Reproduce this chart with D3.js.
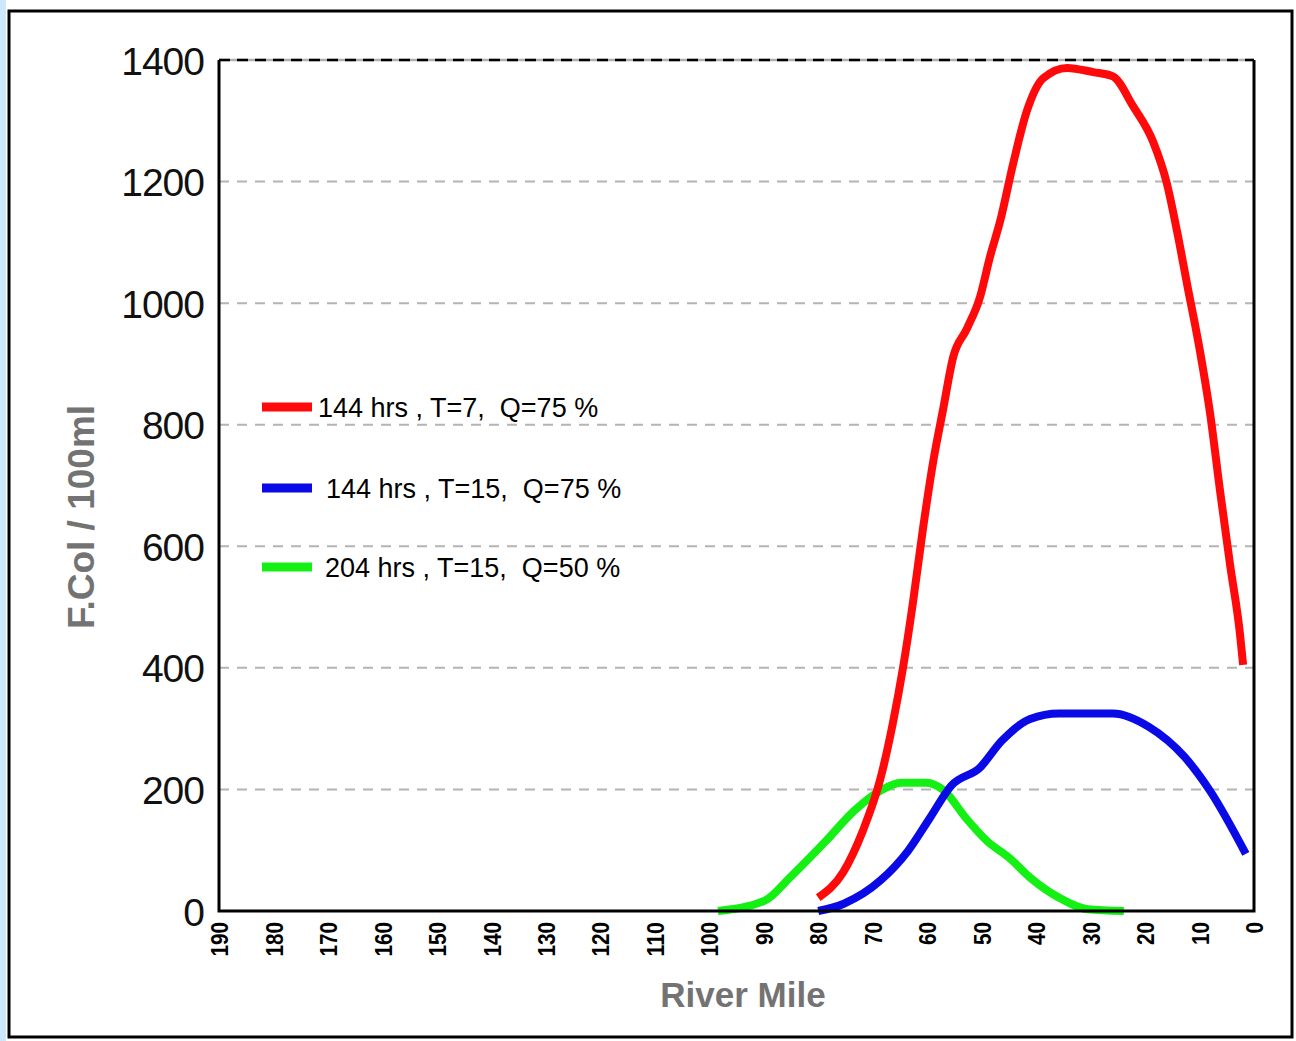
<!DOCTYPE html>
<html>
<head>
<meta charset="utf-8">
<script src="https://cdn.jsdelivr.net/npm/d3@7/dist/d3.min.js"></script>
<style>
  html, body { margin: 0; padding: 0; background: #ffffff; }
  svg { display: block; }
  text { white-space: pre; }
</style>
</head>
<body>
<svg id="chart" width="1296" height="1041"></svg>
<script>
// ---------- data ----------
const xTicks = [190, 180, 170, 160, 150, 140, 130, 120, 110, 100, 90, 80, 70, 60, 50, 40, 30, 20, 10, 0];
const yTicks = [0, 200, 400, 600, 800, 1000, 1200, 1400];

const seriesNames = ["144 hrs , T=7,  Q=75 %", "144 hrs , T=15,  Q=75 %", "204 hrs , T=15,  Q=50 %"];
const seriesColors = ["#ff0a0a", "#0a0ae6", "#14f014"];

// river mile, F.Col/100ml
const redMiles  = [80.0, 75.4, 71.8, 68.6, 66.3, 64.4, 62.6, 60.8, 58.9, 57.1, 55.2, 52.7, 50.3, 48.5, 46.6, 44.2, 41.7, 38.7, 34.3, 29.5, 25.9, 22.2, 18.5, 16.0, 14.1, 12.3, 9.9, 8.1, 6.2, 4.4, 2.6, 2.0];
const redValues = [22, 64, 132, 217, 309, 402, 508, 627, 739, 824, 912, 958, 1010, 1075, 1135, 1230, 1316, 1370, 1387, 1380, 1373, 1324, 1265, 1197, 1117, 1032, 920, 821, 689, 570, 458, 405];

const blueMiles  = [80.0, 75.3, 68.6, 63.5, 59.5, 55.6, 50.3, 46.3, 41.1, 35.8, 25.9, 19.3, 12.7, 8.1, 1.5];
const blueValues = [0, 12, 50, 99, 153, 206, 236, 280, 316, 325, 325, 303, 253, 198, 94];

const greenMiles  = [98.4, 89.8, 85.2, 78.6, 73.4, 68.6, 64.8, 60.2, 56.9, 52.9, 49.0, 45.0, 41.1, 35.8, 30.5, 23.9];
const greenValues = [0, 17, 55, 115, 165, 198, 211, 211, 198, 153, 115, 88, 55, 22, 3, 0];

const xTitle = "River Mile";
const yTitle = "F.Col / 100ml";

// ---------- layout ----------
const svg = d3.select("#chart");
const plotL = 219, plotR = 1254, plotT = 60, plotB = 911;

const x = d3.scaleLinear().domain([190, 0]).range([plotL, plotR]);
const y = d3.scaleLinear().domain([0, 1400]).range([plotB, plotT]);

// light blue strip on the left edge
svg.append("rect").attr("x", 0).attr("y", 0).attr("width", 6).attr("height", 1041).attr("fill", "#cfe7fb");
// outer frame
svg.append("rect").attr("x", 9).attr("y", 11).attr("width", 1283).attr("height", 1026)
  .attr("fill", "#ffffff").attr("stroke", "#000").attr("stroke-width", 3);

// gridlines
svg.append("g").selectAll("line")
  .data(yTicks.filter(d => d > 0 && d < 1400))
  .join("line")
  .attr("x1", plotL).attr("x2", plotR)
  .attr("y1", d => y(d)).attr("y2", d => y(d))
  .attr("stroke", "#b4b4b4").attr("stroke-width", 2)
  .attr("stroke-dasharray", "10,8");

// top border: gray line with black dashes
svg.append("line").attr("x1", plotL).attr("x2", plotR).attr("y1", y(1400)).attr("y2", y(1400))
  .attr("stroke", "#b0b0b0").attr("stroke-width", 2.5);
svg.append("line").attr("x1", plotL).attr("x2", plotR).attr("y1", y(1400)).attr("y2", y(1400))
  .attr("stroke", "#000").attr("stroke-width", 2.5).attr("stroke-dasharray", "11,7");

// series
const series = [
  { miles: greenMiles, values: greenValues, color: seriesColors[2] },
  { miles: blueMiles, values: blueValues, color: seriesColors[1] },
  { miles: redMiles, values: redValues, color: seriesColors[0] }
];
const line = d3.line()
  .x(d => x(d[0])).y(d => y(d[1]))
  .curve(d3.curveMonotoneX);

series.forEach(s => {
  const pts = s.miles.map((m, i) => [m, s.values[i]]);
  svg.append("path")
    .attr("d", line(pts))
    .attr("fill", "none")
    .attr("stroke", s.color)
    .attr("stroke-width", 8)
    .attr("stroke-linejoin", "round")
    .attr("stroke-linecap", "butt");
});

// plot border (left, bottom, right)
svg.append("path")
  .attr("d", `M${plotL},${plotT} V${plotB} H${plotR} V${plotT}`)
  .attr("fill", "none").attr("stroke", "#000").attr("stroke-width", 3);

// y axis labels
const yAxis = d3.axisLeft(y).tickValues(yTicks).tickSize(0).tickPadding(15).tickFormat(d3.format("d"));
const gy = svg.append("g").attr("transform", `translate(${plotL},0)`).call(yAxis);
gy.select(".domain").remove();
gy.selectAll("text")
  .attr("font-family", "'Liberation Sans', Arial, sans-serif")
  .attr("font-size", 39)
  .attr("fill", "#111")
  .attr("letter-spacing", -1)
  .attr("dy", "0.36em");

// x axis labels (rotated)
const xAxis = d3.axisBottom(x).tickValues(xTicks).tickSize(0).tickFormat(d3.format("d"));
const gx = svg.append("g").attr("transform", `translate(0,${plotB})`).call(xAxis);
gx.select(".domain").remove();
gx.selectAll("text")
  .attr("font-family", "'Liberation Sans Narrow', 'Liberation Sans', Arial, sans-serif")
  .attr("font-weight", "bold")
  .attr("font-size", 24)
  .attr("fill", "#000")
  .attr("text-anchor", "end")
  .attr("x", 0).attr("y", 0)
  .attr("dy", "0.36em")
  .attr("textLength", d => String(d).length * 11.5)
  .attr("lengthAdjust", "spacingAndGlyphs")
  .attr("transform", "translate(0,11) rotate(-90)");

// axis titles
svg.append("text")
  .attr("transform", `translate(81,517) rotate(-90)`)
  .attr("text-anchor", "middle").attr("dy", "0.36em")
  .attr("font-family", "'Liberation Sans', Arial, sans-serif")
  .attr("font-weight", "bold").attr("font-size", 37)
  .attr("fill", "#737373")
  .text(yTitle);

svg.append("text")
  .attr("x", 743).attr("y", 994)
  .attr("text-anchor", "middle").attr("dy", "0.36em")
  .attr("font-family", "'Liberation Sans', Arial, sans-serif")
  .attr("font-weight", "bold").attr("font-size", 35)
  .attr("fill", "#737373")
  .text(xTitle);

// legend
const legendY = [407, 488, 567];
const legendTextX = [318, 326, 325];
seriesNames.forEach((name, i) => {
  svg.append("line")
    .attr("x1", 262).attr("x2", 312)
    .attr("y1", legendY[i]).attr("y2", legendY[i])
    .attr("stroke", seriesColors[i]).attr("stroke-width", 9);
  svg.append("text")
    .attr("x", legendTextX[i]).attr("y", legendY[i])
    .attr("dy", "0.36em")
    .attr("font-family", "'Liberation Sans', Arial, sans-serif")
    .attr("font-size", 27)
    .attr("fill", "#000")
    .text(name);
});
</script>
</body>
</html>
